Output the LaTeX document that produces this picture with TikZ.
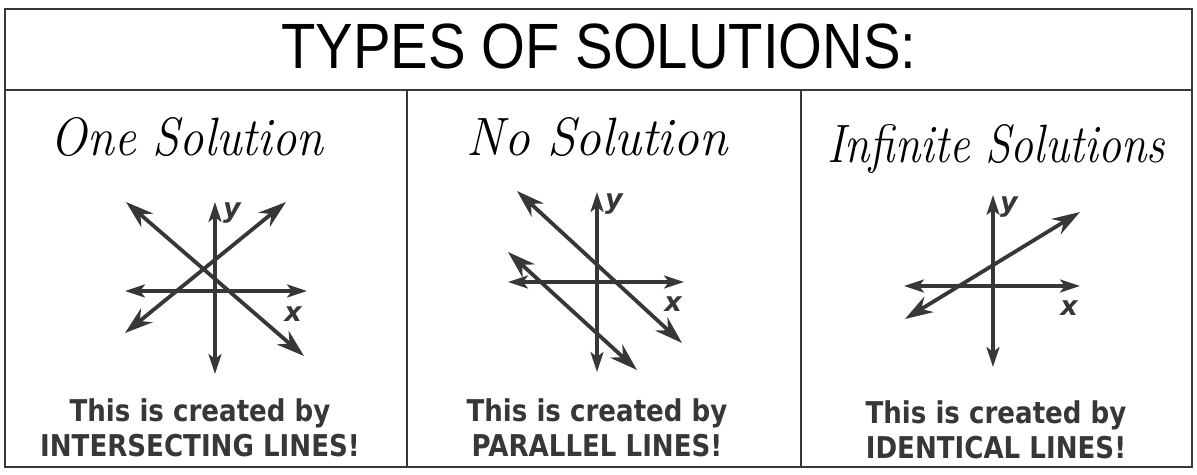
\documentclass[tikz,border=0pt]{standalone}
\usepackage{fontspec}
\usepackage{tikz}
\usetikzlibrary{arrows.meta}
\newfontfamily\capsfont{DejaVu Sans}
\newfontfamily\titlefont{Liberation Sans}
\definecolor{ink}{RGB}{55,55,55}

\begin{document}
\begin{tikzpicture}[x=1pt,y=-1pt,
  frame/.style={line width=1.8pt, color=ink},
  twoway/.style={line width=3.8pt, color=ink,
    {Stealth[length=28pt,width=18pt,inset=9pt]}-{Stealth[length=28pt,width=18pt,inset=9pt]}},
  axisline/.style={line width=3.2pt, color=ink,
    {Stealth[length=20pt,width=13pt,inset=5pt]}-{Stealth[length=20pt,width=13pt,inset=5pt]}},
  headtext/.style={font=\titlefont\fontsize{64}{68}\selectfont, text=black},
  hand/.style={font=\fontsize{54}{60}\selectfont\itshape, anchor=base, text=black},
  caption/.style={font=\capsfont\bfseries\fontsize{30}{34}\selectfont, anchor=base, text=ink},
  axislabel/.style={font=\capsfont\bfseries\itshape\fontsize{27}{30}\selectfont, text=ink}]
\useasboundingbox (0,0) rectangle (1197,474);

% frame
\draw[frame] (5,9) rectangle (1192,467);
\draw[frame] (5,90) -- (1192,90);
\draw[frame] (407,90) -- (407,467);
\draw[frame] (801,90) -- (801,467);

\node[headtext] (title) at (599,46) {\scalebox{0.88}[1]{TYPES OF SOLUTIONS:}};

\node[hand] (oneHead) at (187,155) {\scalebox{0.9}[1]{One Solution}};
\node[hand] (noHead) at (597,155) {\scalebox{0.95}[1]{No Solution}};
\node[hand] (infHead) at (996,162) {\scalebox{0.85}[1]{Infinite Solutions}};

% one solution
\coordinate (oneXl) at (125,291);
\coordinate (oneXr) at (307,291);
\coordinate (oneYt) at (215,202);
\coordinate (oneYb) at (215,374);
\coordinate (oneAs) at (126,202);
\coordinate (oneAe) at (304,356);
\coordinate (oneBs) at (125,333);
\coordinate (oneBe) at (286,202);
\draw[axisline] (oneXl) -- (oneXr);
\draw[axisline] (oneYb) -- (oneYt);
\draw[twoway] (oneAs) -- (oneAe);
\draw[twoway] (oneBs) -- (oneBe);
\node[axislabel] (oneY) at (232,213) {y};
\node[axislabel] (oneX) at (293,314) {x};

% no solution
\coordinate (noXl) at (508,282);
\coordinate (noXr) at (684,282);
\coordinate (noYt) at (597,192);
\coordinate (noYb) at (597,372);
\coordinate (noAs) at (517,191);
\coordinate (noAe) at (682,343);
\coordinate (noBs) at (508,252);
\coordinate (noBe) at (637,370);
\draw[axisline] (noXl) -- (noXr);
\draw[axisline] (noYb) -- (noYt);
\draw[twoway] (noAs) -- (noAe);
\draw[twoway] (noBs) -- (noBe);
\node[axislabel] (noY) at (614,204) {y};
\node[axislabel] (noX) at (673,304) {x};

% infinite solutions
\coordinate (infXl) at (904,286);
\coordinate (infXr) at (1080,286);
\coordinate (infYt) at (993,195);
\coordinate (infYb) at (993,367);
\coordinate (infAs) at (905,319);
\coordinate (infAe) at (1080,212);
\draw[axisline] (infXl) -- (infXr);
\draw[axisline] (infYb) -- (infYt);
\draw[twoway] (infAs) -- (infAe);
\node[axislabel] (infY) at (1009,207) {y};
\node[axislabel] (infX) at (1069,308) {x};

\node[caption] (oneTop) at (200,421) {\scalebox{0.87}[1]{This is created by}};
\node[caption] (oneBot) at (200,456) {\scalebox{0.87}[1]{INTERSECTING LINES!}};
\node[caption] (noTop) at (597,421) {\scalebox{0.87}[1]{This is created by}};
\node[caption] (noBot) at (597,456) {\scalebox{0.87}[1]{PARALLEL LINES!}};
\node[caption] (infTop) at (996,423) {\scalebox{0.87}[1]{This is created by}};
\node[caption] (infBot) at (996,458) {\scalebox{0.87}[1]{IDENTICAL LINES!}};
\end{tikzpicture}
\end{document}
